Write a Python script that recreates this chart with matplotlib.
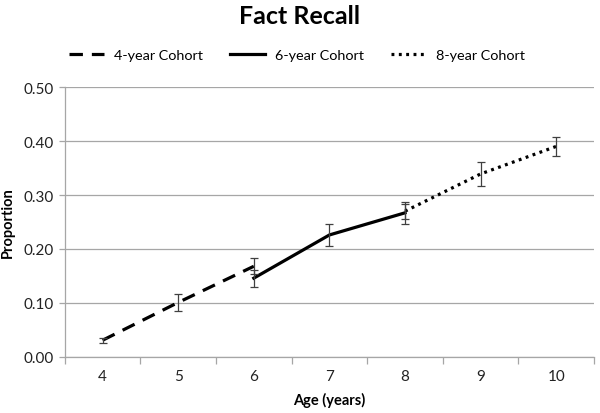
import matplotlib
matplotlib.use("Agg")
import matplotlib.pyplot as plt
from matplotlib.ticker import FixedLocator, NullFormatter, FixedFormatter

plt.rcParams['font.family'] = ['Lato', 'DejaVu Sans']

ages = [4, 5, 6, 7, 8, 9, 10]
age_labels = ['4', '5', '6', '7', '8', '9', '10']

c4_x = [4, 5, 6]
c4_y = [0.031, 0.101, 0.168]
c4_err = [0.005, 0.015, 0.015]

c6_x = [6, 7, 8]
c6_y = [0.146, 0.226, 0.267]
c6_err = [0.016, 0.020, 0.020]

c8_x = [8, 9, 10]
c8_y = [0.270, 0.339, 0.390]
c8_err = [0.014, 0.023, 0.018]

y_ticks = [0.0, 0.1, 0.2, 0.3, 0.4, 0.5]

fig = plt.figure(figsize=(6.0, 4.14), dpi=100)
ax = fig.add_axes([0.108, 0.1353, 0.882, 0.6521])

grid_c = '#a6a6a6'
err_c = '#404040'

lw = 2.3
l4, = ax.plot(c4_x, c4_y, color='black', lw=lw, linestyle=(0, (4.2, 2.8)), label='4-year Cohort')
l6, = ax.plot(c6_x, c6_y, color='black', lw=lw, linestyle='-', label='6-year Cohort')
l8, = ax.plot(c8_x, c8_y, color='black', lw=lw, linestyle=(0, (0.9, 1.4)), label='8-year Cohort')

for xs, ys, es in [(c4_x, c4_y, c4_err), (c6_x, c6_y, c6_err), (c8_x, c8_y, c8_err)]:
    ax.errorbar(xs, ys, yerr=es, fmt='none', ecolor=err_c, elinewidth=0.9,
                capsize=3.2, capthick=0.9, zorder=3)

ax.set_xlim(3.5, 10.5)
ax.set_ylim(0, 0.5)
ax.set_yticks(y_ticks)
ax.set_yticklabels([f'{v:.2f}' for v in y_ticks])
ax.yaxis.grid(True, color=grid_c, lw=0.9)
ax.set_axisbelow(True)

bounds = [a - 0.5 for a in ages] + [ages[-1] + 0.5]
ax.xaxis.set_major_locator(FixedLocator(bounds))
ax.xaxis.set_major_formatter(NullFormatter())
ax.xaxis.set_minor_locator(FixedLocator(ages))
ax.xaxis.set_minor_formatter(FixedFormatter(age_labels))
ax.tick_params(axis='x', which='major', length=5, color=grid_c, width=0.9)
ax.tick_params(axis='x', which='minor', length=0, pad=9, labelsize=11, labelcolor='#222222')
ax.tick_params(axis='y', length=4, color=grid_c, width=0.9, labelsize=11, labelcolor='#222222', pad=4)

for s in ['top', 'right']:
    ax.spines[s].set_visible(False)
for s in ['left', 'bottom']:
    ax.spines[s].set_color(grid_c)
    ax.spines[s].set_linewidth(0.9)

ax.set_xlabel('Age (years)', fontsize=10.5, fontweight='bold', labelpad=6)
ax.set_ylabel('Proportion', fontsize=10.5, fontweight='bold', labelpad=6)

fig.text(0.5, 0.96, 'Fact Recall', ha='center', va='center', fontsize=18, fontweight='bold')

fig.legend(handles=[l4, l6, l8], loc='center', bbox_to_anchor=(0.495, 0.864), ncol=3,
           frameon=False, fontsize=10.4, handlelength=2.4, columnspacing=1.9, handletextpad=0.7)

fig.savefig('out.png', dpi=100)
